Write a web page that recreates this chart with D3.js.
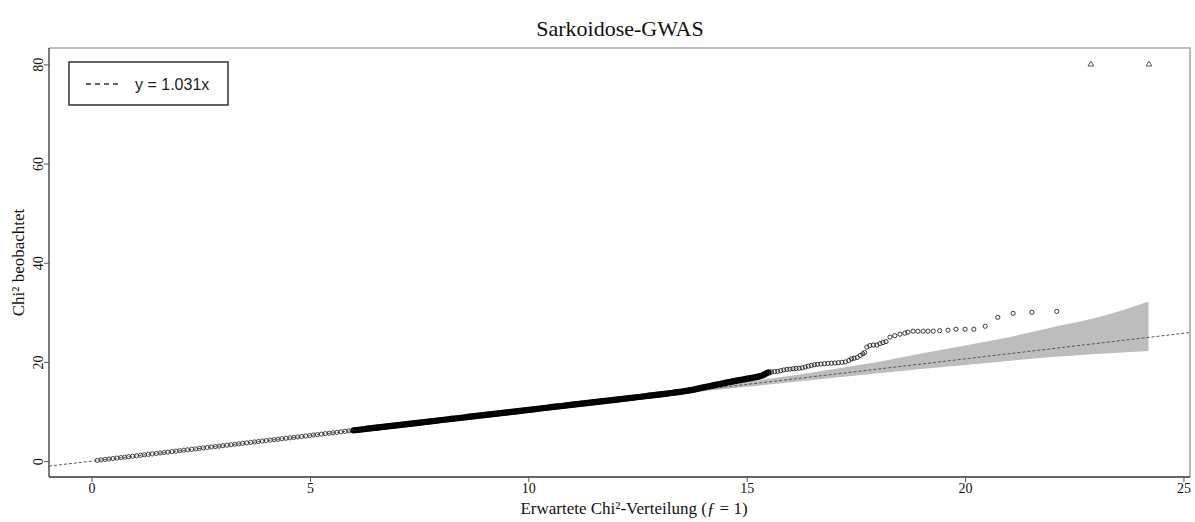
<!DOCTYPE html>
<html lang="de">
<head>
	<meta charset="UTF-8">
	<title>Sarkoidose-GWAS</title>
	<script src="https://d3js.org/d3.v7.min.js"></script>
	<style>
		body{
			margin: 0;
			background: #fff;
		}
		svg{
			display: block;
		}
		.serif{
			font-family: 'Liberation Serif', 'Times New Roman', serif;
		}
	</style>
</head>
<body>
	<div id="chart"></div>
	<script>
		var lowExp = [0.13,0.22,0.31,0.40,0.49,0.58,0.67,0.76,0.85,0.94,1.03,1.12,1.21,1.30,1.39,1.48,1.57,1.66,1.75,1.84,
			1.93,2.02,2.11,2.20,2.29,2.38,2.47,2.56,2.65,2.74,2.83,2.92,3.01,3.10,3.19,3.28,3.37,3.46,3.55,3.64,
			3.73,3.82,3.91,4.00,4.09,4.18,4.27,4.36,4.45,4.54,4.63,4.72,4.81,4.90,4.99,5.08,5.17,5.26,5.35,5.44,
			5.53,5.62,5.71,5.80,5.89];
		var lowObs = [0.15,0.25,0.34,0.43,0.53,0.62,0.71,0.80,0.90,0.99,1.08,1.17,1.27,1.36,1.45,1.55,1.64,1.73,1.82,1.92,
			2.01,2.10,2.20,2.29,2.38,2.47,2.57,2.66,2.75,2.85,2.94,3.03,3.12,3.22,3.31,3.40,3.49,3.59,3.68,3.77,
			3.87,3.96,4.05,4.14,4.24,4.33,4.42,4.52,4.61,4.70,4.79,4.89,4.98,5.07,5.16,5.26,5.35,5.44,5.54,5.63,
			5.72,5.81,5.91,6.00,6.09];

		var denseExp = [6.00,6.05,6.10,6.15,6.20,6.25,6.30,6.35,6.40,6.45,6.50,6.55,6.60,6.65,6.70,6.75,6.80,6.85,6.90,6.95,
			7.00,7.05,7.10,7.15,7.20,7.25,7.30,7.35,7.40,7.45,7.50,7.55,7.60,7.65,7.70,7.75,7.80,7.85,7.90,7.95,
			8.00,8.05,8.10,8.15,8.20,8.25,8.30,8.35,8.40,8.45,8.50,8.55,8.60,8.65,8.70,8.75,8.80,8.85,8.90,8.95,
			9.00,9.05,9.10,9.15,9.20,9.25,9.30,9.35,9.40,9.45,9.50,9.55,9.60,9.65,9.70,9.75,9.80,9.85,9.90,9.95,
			10.00,10.05,10.10,10.15,10.20,10.25,10.30,10.35,10.40,10.45,10.50,10.55,10.60,10.65,10.70,10.75,10.80,10.85,10.90,10.95,
			11.00,11.05,11.10,11.15,11.20,11.25,11.30,11.35,11.40,11.45,11.50,11.55,11.60,11.65,11.70,11.75,11.80,11.85,11.90,11.95,
			12.00,12.05,12.10,12.15,12.20,12.25,12.30,12.35,12.40,12.45,12.50,12.55,12.60,12.65,12.70,12.75,12.80,12.85,12.90,12.95,
			13.00,13.05,13.10,13.15,13.20,13.25,13.30,13.35,13.40,13.45,13.50,13.55,13.60,13.65,13.70,13.75,13.80,13.85,13.90,13.95,
			14.00,14.05,14.10,14.15,14.20,14.25,14.30,14.35,14.40,14.45,14.50,14.55,14.60,14.65,14.70,14.75,14.80,14.85,14.90,14.95,
			15.00,15.05,15.10,15.15,15.20,15.25,15.30,15.35,15.40,15.45,15.50];
		var denseObs = [6.21,6.26,6.31,6.36,6.41,6.46,6.52,6.57,6.62,6.67,6.72,6.77,6.82,6.88,6.93,6.98,7.03,7.08,7.13,7.19,
			7.24,7.29,7.34,7.39,7.44,7.49,7.55,7.60,7.65,7.70,7.75,7.80,7.86,7.91,7.96,8.01,8.06,8.11,8.16,8.22,
			8.27,8.32,8.37,8.42,8.47,8.53,8.58,8.63,8.68,8.73,8.78,8.83,8.89,8.94,8.99,9.04,9.09,9.14,9.20,9.25,
			9.30,9.35,9.40,9.45,9.51,9.56,9.61,9.66,9.71,9.76,9.81,9.87,9.92,9.97,10.02,10.07,10.12,10.18,10.23,10.28,
			10.33,10.38,10.43,10.48,10.54,10.59,10.64,10.69,10.74,10.79,10.85,10.90,10.95,11.00,11.05,11.10,11.15,11.21,11.26,11.31,
			11.36,11.41,11.46,11.52,11.57,11.62,11.67,11.72,11.77,11.82,11.88,11.93,11.98,12.03,12.08,12.13,12.19,12.24,12.29,12.34,
			12.39,12.44,12.50,12.55,12.60,12.65,12.70,12.75,12.80,12.86,12.91,12.96,13.01,13.06,13.11,13.17,13.22,13.27,13.32,13.37,
			13.44,13.49,13.55,13.60,13.66,13.72,13.77,13.83,13.88,13.94,14.00,14.07,14.14,14.21,14.28,14.35,14.45,14.55,14.65,14.75,
			14.85,14.94,15.03,15.12,15.21,15.30,15.39,15.48,15.57,15.66,15.75,15.84,15.93,16.02,16.11,16.20,16.28,16.36,16.44,16.52,
			16.60,16.68,16.76,16.84,16.92,17.00,17.12,17.25,17.45,17.70,17.90];

		var tailExp = [15.57,15.64,15.71,15.78,15.85,15.92,15.99,16.06,16.13,16.20,16.27,16.34,16.41,16.48,16.55,16.62,16.70,16.78,
			16.86,16.94,17.02,17.10,17.18,17.26,17.34,17.40,17.46,17.53,17.60,17.66,17.70,
			17.75,17.82,17.90,17.98,18.05,18.12,18.19,18.28,18.39,18.51,18.62,18.69,18.81,18.92,19.04,19.15,19.27,19.42,
			19.61,19.79,20.00,20.20,20.46,20.75,21.10,21.53,22.10];
		var tailObs = [17.98,18.05,18.12,18.24,18.38,18.50,18.55,18.62,18.68,18.74,18.82,18.98,19.15,19.30,19.42,19.52,19.58,19.64,
			19.70,19.74,19.78,19.85,19.92,20.00,20.30,20.62,20.75,20.90,21.30,21.65,21.90,
			23.0,23.3,23.4,23.4,23.7,23.9,24.1,25.0,25.3,25.6,25.8,26.0,26.2,26.2,26.2,26.2,26.2,26.3,
			26.4,26.6,26.6,26.6,27.2,29.0,29.8,30.0,30.2];

		// values above the axis limit, drawn as triangles at 80
		var cappedExp = [22.88, 24.21];
		var cappedObs = [80, 80];

		// confidence band
		var bandExp = [13, 14, 15, 16, 17, 18, 19, 20, 21, 22, 23, 24.2];
		var bandLow = [13.2, 14.1, 15.0, 15.9, 16.8, 17.7, 18.6, 19.4, 20.2, 21.0, 21.6, 22.2];
		var bandHigh = [13.7, 14.9, 16.0, 17.2, 18.6, 20.0, 21.7, 23.3, 25.0, 27.0, 28.9, 32.2];

		var slope = 1.031;
		var xTicks = [0, 5, 10, 15, 20, 25];
		var yTicks = [0, 20, 40, 60, 80];

		var width = 1195;
		var height = 522;
		var pLeft = 49, pRight = 1190, pTop = 48, pBottom = 477;

		var svg = d3.select('#chart').append('svg')
			.attr('width', width)
			.attr('height', height);

		var xScale = d3.scaleLinear().domain([-0.975, 25.15]).range([pLeft, pRight]);
		var yScale = d3.scaleLinear().domain([-3.2, 83.3]).range([pBottom, pTop]);

		svg.append('clipPath').attr('id', 'plotclip')
			.append('rect')
			.attr('x', pLeft).attr('y', pTop)
			.attr('width', pRight - pLeft).attr('height', pBottom - pTop);

		var plot = svg.append('g').attr('clip-path', 'url(#plotclip)');

		// grey band
		var band = bandExp.map(function(e, i){ return [e, bandLow[i], bandHigh[i]]; });
		plot.append('path')
			.datum(band)
			.attr('fill', '#bdbdbd')
			.attr('d', d3.area()
				.x(function(d){ return xScale(d[0]); })
				.y0(function(d){ return yScale(d[1]); })
				.y1(function(d){ return yScale(d[2]); })
				.curve(d3.curveMonotoneX));

		// fitted line
		var lineDom = xScale.domain();
		plot.append('line')
			.attr('x1', xScale(lineDom[0])).attr('y1', yScale(slope * lineDom[0]))
			.attr('x2', xScale(lineDom[1])).attr('y2', yScale(slope * lineDom[1]))
			.attr('stroke', '#555')
			.attr('stroke-width', 1)
			.attr('stroke-dasharray', '3,2');

		// points
		function drawPoints(ex, ob, cls, r, sw, col){
			plot.selectAll('circle.' + cls)
				.data(ex.map(function(e, i){ return [e, ob[i]]; }))
				.enter()
				.append('circle')
				.attr('class', cls)
				.attr('cx', function(d){ return xScale(d[0]); })
				.attr('cy', function(d){ return yScale(d[1]); })
				.attr('r', r)
				.attr('fill', 'none')
				.attr('stroke', col)
				.attr('stroke-width', sw);
		}
		drawPoints(lowExp, lowObs, 'low', 2.1, 0.9, '#333');
		drawPoints(denseExp, denseObs, 'dense', 2.2, 2.0, '#000');
		drawPoints(tailExp, tailObs, 'tail', 2.1, 0.9, '#222');

		var tri = d3.symbol().type(d3.symbolTriangle).size(14);
		plot.selectAll('path.capped')
			.data(cappedExp.map(function(e, i){ return [e, cappedObs[i]]; }))
			.enter()
			.append('path')
			.attr('class', 'capped')
			.attr('transform', function(d){ return 'translate(' + xScale(d[0]) + ',' + yScale(d[1]) + ')'; })
			.attr('d', tri)
			.attr('fill', 'none')
			.attr('stroke', '#444')
			.attr('stroke-width', 0.9);

		// frame: top/right light
		svg.append('path')
			.attr('d', 'M' + pLeft + ',' + pTop + 'H' + pRight + 'V' + pBottom)
			.attr('fill', 'none')
			.attr('stroke', '#a8a8a8')
			.attr('stroke-width', 1.6);

		// axes
		var xAxis = d3.axisBottom(xScale).tickValues(xTicks).tickSize(5).tickSizeOuter(0);
		var yAxis = d3.axisLeft(yScale).tickValues(yTicks).tickSize(5).tickSizeOuter(0);

		var gx = svg.append('g')
			.attr('transform', 'translate(0,' + pBottom + ')')
			.call(xAxis);
		gx.select('.domain').attr('d', 'M' + pLeft + ',0H' + pRight).attr('stroke', '#333').attr('stroke-width', 1.3);
		gx.selectAll('.tick line').attr('stroke', '#555');
		gx.selectAll('.tick text')
			.attr('fill', '#111')
			.attr('font-size', 14)
			.attr('font-family', 'Liberation Serif, serif')
			.attr('y', 6);

		var gy = svg.append('g')
			.attr('transform', 'translate(' + pLeft + ',0)')
			.call(yAxis);
		gy.select('.domain').attr('d', 'M0,' + pTop + 'V' + pBottom).attr('stroke', '#333').attr('stroke-width', 1.3);
		gy.selectAll('.tick line').attr('stroke', '#555');
		gy.selectAll('.tick text')
			.attr('fill', '#111')
			.attr('font-size', 14)
			.attr('font-family', 'Liberation Serif, serif')
			.attr('x', 0)
			.attr('dy', 0)
			.attr('text-anchor', 'middle')
			.attr('transform', 'translate(-6,0) rotate(-90)');

		// title and labels
		svg.append('text')
			.attr('class', 'serif')
			.attr('x', 620)
			.attr('y', 36)
			.attr('text-anchor', 'middle')
			.attr('font-size', 22)
			.attr('fill', '#111')
			.text('Sarkoidose-GWAS');

		var xl = svg.append('text')
			.attr('class', 'serif')
			.attr('x', 634)
			.attr('y', 514)
			.attr('text-anchor', 'middle')
			.attr('font-size', 17)
			.attr('fill', '#111');
		xl.append('tspan').text('Erwartete Chi²-Verteilung (');
		xl.append('tspan').attr('font-style', 'italic').text('ƒ');
		xl.append('tspan').text(' = 1)');

		svg.append('text')
			.attr('class', 'serif')
			.attr('transform', 'translate(24,' + ((pTop + pBottom) / 2) + ') rotate(-90)')
			.attr('text-anchor', 'middle')
			.attr('font-size', 17)
			.attr('fill', '#111')
			.text('Chi² beobachtet');

		// legend
		var lg = svg.append('g');
		lg.append('rect')
			.attr('x', 69).attr('y', 62)
			.attr('width', 159).attr('height', 43)
			.attr('fill', '#fff')
			.attr('stroke', '#333')
			.attr('stroke-width', 1.5);
		lg.append('line')
			.attr('x1', 86).attr('x2', 119)
			.attr('y1', 84).attr('y2', 84)
			.attr('stroke', '#333')
			.attr('stroke-width', 1.4)
			.attr('stroke-dasharray', '5,4');
		lg.append('text')
			.attr('x', 135).attr('y', 90)
			.attr('font-family', 'Liberation Sans, Arial, sans-serif')
			.attr('font-size', 16)
			.attr('fill', '#222')
			.text('y = 1.031x');
	</script>
</body>
</html>
